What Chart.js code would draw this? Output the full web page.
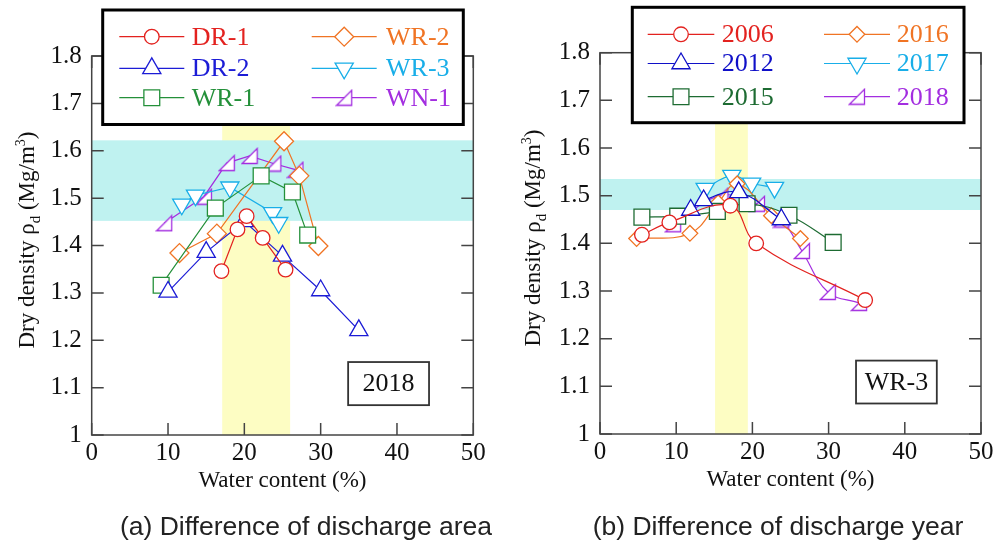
<!DOCTYPE html>
<html>
<head>
<meta charset="utf-8">
<script src="https://cdn.jsdelivr.net/npm/chart.js@4.4.1/dist/chart.umd.min.js"></script>
<style>
  body { margin: 0; background: #fff; width: 998px; height: 548px; position: relative; overflow: hidden; }
  canvas { position: absolute; top: 0; }
  #ca { left: 0; }
  #cb { left: 500px; }
  .cap { position: absolute; top: 511px; width: 500px; text-align: center; white-space: nowrap;
         font-family: "Liberation Sans", Arial, sans-serif; font-size: 26.5px; line-height: 30px; color: #222; }
</style>
</head>
<body>
<canvas id="ca" width="500" height="548"></canvas>
<canvas id="cb" width="498" height="548"></canvas>
<div class="cap" style="left:56px">(a) Difference of discharge area</div>
<div class="cap" style="left:528px">(b) Difference of discharge year</div>
<script>
const xTicks = [0, 10, 20, 30, 40, 50];
const xLabels = ['0', '10', '20', '30', '40', '50'];
const yTicks = [1, 1.1, 1.2, 1.3, 1.4, 1.5, 1.6, 1.7, 1.8];
const yLabels = ['1', '1.1', '1.2', '1.3', '1.4', '1.5', '1.6', '1.7', '1.8'];

// (a) 2018, different discharge areas
const dr1W = [17.0, 19.1, 20.3, 22.4, 25.4];
const dr1D = [1.346, 1.434, 1.462, 1.416, 1.349];
const dr2W = [10.0, 15.0, 20.0, 25.0, 30.0, 35.0];
const dr2D = [1.302, 1.386, 1.451, 1.378, 1.305, 1.221];
const wr1W = [9.1, 16.2, 22.2, 26.3, 28.3];
const wr1D = [1.316, 1.479, 1.547, 1.513, 1.422];
const wr2W = [11.5, 16.4, 25.2, 27.2, 29.7];
const wr2D = [1.384, 1.425, 1.620, 1.547, 1.399];
const wr3W = [11.8, 13.6, 18.1, 23.7, 24.5];
const wr3D = [1.487, 1.506, 1.523, 1.469, 1.448];
const wn1W = [9.5, 14.7, 17.7, 20.7, 23.8, 26.7];
const wn1D = [1.447, 1.503, 1.574, 1.589, 1.573, 1.560];

// (b) WR-3, different discharge years
const y06W = [5.5, 9.1, 17.1, 20.5, 34.8];
const y06D = [1.418, 1.444, 1.479, 1.400, 1.281];
const y12W = [11.9, 13.6, 18.2, 23.8];
const y12D = [1.470, 1.490, 1.507, 1.450];
const y15W = [5.5, 10.2, 15.4, 19.3, 24.8, 30.6];
const y15D = [1.455, 1.457, 1.467, 1.483, 1.459, 1.402];
const y16W = [4.8, 11.8, 15.5, 18.0, 22.5, 26.3];
const y16D = [1.410, 1.421, 1.485, 1.525, 1.458, 1.410];
const y17W = [13.8, 17.3, 19.9, 22.9];
const y17D = [1.515, 1.542, 1.526, 1.517];
const y18W = [9.6, 15.8, 20.6, 23.8, 26.5, 29.9, 34.0];
const y18D = [1.440, 1.500, 1.483, 1.450, 1.384, 1.298, 1.275];

const serif = '"Liberation Serif", "Times New Roman", serif';

// right-angled triangle marker
function wedge(color, s) {
  const c = document.createElement('canvas');
  c.width = s + 3; c.height = s + 3;
  const g = c.getContext('2d');
  g.beginPath();
  g.moveTo(1.5, s + 1.5); g.lineTo(s + 1.5, 1.5); g.lineTo(s + 1.5, s + 1.5); g.closePath();
  g.fillStyle = '#fff'; g.fill();
  g.strokeStyle = color; g.lineWidth = 1.3; g.stroke();
  return c;
}

const pts = (w, d) => w.map((v, i) => ({x: v, y: d[i]}));

function set(label, w, d, color, style, r, rot, tension) {
  return {
    label: label, data: pts(w, d), showLine: true,
    borderColor: color, borderWidth: 1.2, tension: tension,
    pointStyle: style, pointRadius: r, pointRotation: rot || 0,
    pointBackgroundColor: '#fff', pointBorderColor: color, pointBorderWidth: 1.3
  };
}

const frame = {
  id: 'frame',
  beforeDatasetsDraw(chart, args, o) {
    const {ctx, chartArea: a, scales: {x, y}} = chart;
    ctx.save();
    const x0 = x.getPixelForValue(o.yellow[0]), x1 = x.getPixelForValue(o.yellow[1]);
    ctx.fillStyle = '#fdfdc3';
    ctx.fillRect(x0, a.top, x1 - x0, a.bottom - a.top);
    const t = y.getPixelForValue(o.cyan[1]), b = y.getPixelForValue(o.cyan[0]);
    ctx.fillStyle = '#bff2f0';
    ctx.fillRect(a.left, t, a.right - a.left, b - t);
    ctx.strokeStyle = '#444';
    ctx.lineWidth = 1.5;
    ctx.strokeRect(a.left, a.top, a.right - a.left, a.bottom - a.top);
    ctx.beginPath();
    for (const v of yTicks) {
      const p = y.getPixelForValue(v);
      ctx.moveTo(a.left, p); ctx.lineTo(a.left + 12, p);
      ctx.moveTo(a.right, p); ctx.lineTo(a.right - 12, p);
    }
    for (const v of xTicks) {
      const p = x.getPixelForValue(v);
      ctx.moveTo(p, a.bottom); ctx.lineTo(p, a.bottom - 12);
      ctx.moveTo(p, a.top); ctx.lineTo(p, a.top + 12);
    }
    ctx.stroke();
    ctx.restore();
  },
  afterDraw(chart, args, o) {
    const {ctx, scales: {x, y}} = chart;
    ctx.save();
    // legend
    const L = o.legend;
    ctx.fillStyle = '#fff';
    ctx.fillRect(L.l, L.t, L.r - L.l, L.b - L.t);
    ctx.lineWidth = 3; ctx.strokeStyle = '#000';
    ctx.strokeRect(L.l, L.t, L.r - L.l, L.b - L.t);
    ctx.font = '26px ' + serif;
    ctx.textBaseline = 'middle';
    ctx.textAlign = 'left';
    chart.data.datasets.forEach((ds, i) => {
      const c = L.cols[Math.floor(i / 3)], yy = L.rows[i % 3];
      ctx.strokeStyle = ds.borderColor; ctx.lineWidth = 1.2;
      ctx.beginPath(); ctx.moveTo(c.x0, yy); ctx.lineTo(c.x1, yy); ctx.stroke();
      ctx.fillStyle = '#fff'; ctx.lineWidth = 1.3;
      Chart.helpers.drawPoint(ctx, {pointStyle: ds.pointStyle, rotation: ds.pointRotation,
        radius: ds.pointRadius, borderWidth: 1.3}, (c.x0 + c.x1) / 2, yy);
      ctx.fillStyle = ds.borderColor;
      ctx.fillText(ds.label, c.tx, yy + 1);
    });
    // annotation box
    const A = o.note;
    const bl = x.getPixelForValue(A.x[0]), br = x.getPixelForValue(A.x[1]);
    const bt = y.getPixelForValue(A.y[1]), bb = y.getPixelForValue(A.y[0]);
    ctx.fillStyle = '#fff'; ctx.fillRect(bl, bt, br - bl, bb - bt);
    ctx.strokeStyle = '#333'; ctx.lineWidth = 1.8;
    ctx.strokeRect(bl, bt, br - bl, bb - bt);
    ctx.fillStyle = '#111'; ctx.textAlign = 'center';
    ctx.fillText(A.text, (bl + br) / 2, (bt + bb) / 2 + 1);
    // y axis title with sub/superscript
    const parts = [['Dry density \u03c1', 23, 0], ['d', 15, 6], [' (Mg/m', 23, 0], ['3', 14, -9], [')', 23, 0]];
    let w = 0;
    for (const p of parts) { ctx.font = p[1] + 'px ' + serif; w += ctx.measureText(p[0]).width; }
    ctx.translate(o.yt[0], o.yt[1]);
    ctx.rotate(-Math.PI / 2);
    ctx.textAlign = 'left'; ctx.textBaseline = 'alphabetic'; ctx.fillStyle = '#111';
    let cx = -w / 2;
    for (const p of parts) {
      ctx.font = p[1] + 'px ' + serif;
      ctx.fillText(p[0], cx, 7 + p[2]);
      cx += ctx.measureText(p[0]).width;
    }
    ctx.restore();
  }
};

function makeChart(id, sets, o) {
  return new Chart(document.getElementById(id), {
    type: 'scatter',
    data: {datasets: sets},
    options: {
      responsive: false, animation: false, events: [],
      layout: {padding: o.pad},
      plugins: {legend: {display: false}, tooltip: {enabled: false}, frame: o.frame},
      scales: {
        x: {
          type: 'linear', min: 0, max: 50,
          afterBuildTicks: s => { s.ticks = xTicks.map(v => ({value: v})); },
          afterFit: s => { s.height = 60; },
          grid: {display: false, drawTicks: false}, border: {display: false},
          ticks: {color: '#111', font: {family: serif, size: 25}, padding: 3, maxRotation: 0,
            callback: (v, i) => xLabels[i]},
          title: {display: true, text: 'Water content (%)', color: '#111', font: {family: serif, size: 23}, padding: 0}
        },
        y: {
          type: 'linear', min: 1, max: 1.8,
          afterBuildTicks: s => { s.ticks = yTicks.map(v => ({value: v})); },
          afterFit: s => { s.width = o.yw; },
          grid: {display: false, drawTicks: false}, border: {display: false},
          ticks: {color: '#111', font: {family: serif, size: 25}, padding: 10,
            callback: (v, i) => yLabels[i]}
        }
      }
    },
    plugins: [frame]
  });
}

makeChart('ca', [
  set('DR-1', dr1W, dr1D, '#e3221f', 'circle', 7.3, 0, 0),
  set('DR-2', dr2W, dr2D, '#1c1cd6', 'triangle', 10.5, 0, 0),
  set('WR-1', wr1W, wr1D, '#24903a', 'rect', 11.2, 0, 0),
  set('WR-2', wr2W, wr2D, '#f07424', 'rectRot', 9.5, 0, 0),
  set('WR-3', wr3W, wr3D, '#19aee8', 'triangle', 10.5, 180, 0),
  set('WN-1', wn1W, wn1D, '#a32ee0', wedge('#a32ee0', 15), 8, 0, 0)
], {
  pad: {left: 0, top: 56, right: 26.7, bottom: 53}, yw: 91.7,
  frame: {
    yellow: [17.1, 26.0], cyan: [1.452, 1.622],
    legend: {l: 102.7, t: 10, r: 463.3, b: 124.5, rows: [36.7, 68.3, 97.7],
      cols: [{x0: 119.3, x1: 184.3, tx: 191.7}, {x0: 311.7, x1: 376.7, tx: 386}]},
    note: {x: [33.6, 44.2], y: [1.063, 1.154], text: '2018'},
    yt: [27, 240]
  }
});

makeChart('cb', [
  set('2006', y06W, y06D, '#e3221f', 'circle', 7.3, 0, 0.4),
  set('2012', y12W, y12D, '#1010c8', 'triangle', 10.5, 0, 0.4),
  set('2015', y15W, y15D, '#1d6b32', 'rect', 11.2, 0, 0.4),
  set('2016', y16W, y16D, '#f07424', 'rectRot', 7.8, 0, 0.4),
  set('2017', y17W, y17D, '#19aee8', 'triangle', 10.5, 180, 0.4),
  set('2018', y18W, y18D, '#a32ee0', wedge('#a32ee0', 15), 8, 0, 0.4)
], {
  pad: {left: 0, top: 52.7, right: 17, bottom: 54}, yw: 100,
  frame: {
    yellow: [15.1, 19.4], cyan: [1.470, 1.535],
    legend: {l: 132.3, t: 7.3, r: 464, b: 122.7, rows: [34.3, 63.5, 96.7],
      cols: [{x0: 147.7, x1: 214.3, tx: 221.7}, {x0: 324, x1: 390, tx: 396.7}]},
    note: {x: [33.6, 44.2], y: [1.064, 1.154], text: 'WR-3'},
    yt: [33, 238]
  }
});
</script>
</body>
</html>
